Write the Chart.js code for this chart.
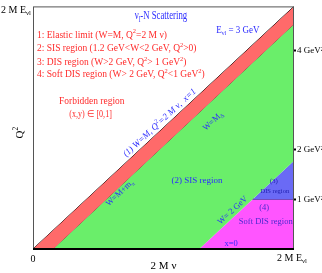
<!DOCTYPE html>
<html>
<head>
<meta charset="utf-8">
<script src="https://cdn.jsdelivr.net/npm/chart.js@4.4.0/dist/chart.umd.min.js"></script>
<style>
  html, body { margin: 0; padding: 0; background: #fff; }
</style>
</head>
<body>
<canvas id="kin" width="322" height="273"></canvas>
<script>
// Kinematic plane, both axes in GeV^2: x = 2 M nu, y = Q^2 (E_nu = 3 GeV)

const fullScale = 4.9; // 2 M E_nu
const q2Ticks = [1, 2, 4];

// regions as polygons [2 M nu, Q^2]
const elasticBand = [[0, 0], [4.9, 4.9], [4.9, 4.54], [0.38, 0]];
const sisRegion = [[0.38, 0], [4.9, 4.54], [4.9, 1.78], [3.12, 0]];
const disRegion = [[4.12, 1], [4.9, 1.78], [4.9, 1]];
const softDisRegion = [[3.12, 0], [4.12, 1], [4.9, 1], [4.9, 0]];

// boundary lines
const elasticLine = [[0, 0], [4.9, 4.9]];
const pionLine = [[0.38, 0], [4.9, 4.54]];
const deltaLine = [[0.66, 0], [4.9, 4.24]];
const q2CutLine = [[4.12, 1], [4.9, 1]];

const blue = "#2b2bff";
const red = "#ff2b2b";

// text notes, placed in data units
const notes = [
  ["ν_{l}-N Scattering", 1.91, 4.70, { size: 11.5, color: blue, hScale: 0.76 }],
  ["E_{νl} = 3 GeV", 3.44, 4.42, { size: 10, color: blue, hScale: 0.9 }],
  ["1: Elastic limit (W=M, Q^{2}=2 M ν)", 0.075, 4.32, { size: 9.5, color: red }],
  ["2: SIS region (1.2 GeV<W<2 GeV, Q^{2}>0)", 0.075, 4.05, { size: 9.5, color: red }],
  ["3: DIS region (W>2 GeV, Q^{2}> 1 GeV^{2})", 0.075, 3.77, { size: 9.5, color: red }],
  ["4: Soft DIS region (W> 2 GeV, Q^{2}<1 GeV^{2})", 0.075, 3.52, { size: 9.5, color: red }],
  ["Forbidden region", 0.49, 2.99, { size: 11, color: red, hScale: 0.86 }],
  ["(x,y) ∈ [0,1]", 0.68, 2.71, { size: 9.5, color: red, hScale: 0.85 }],
  ["(1) W=M, Q^{2}=2 M ν,  x=1", 2.38, 2.55, { size: 9, color: blue, align: "center", diag: true, style: "italic" }],
  ["W=M+m_{π}", 1.63, 1.13, { size: 8.5, color: blue, align: "center", diag: true }],
  ["W=M_{Δ}", 3.38, 2.58, { size: 8.5, color: blue, align: "center", diag: true }],
  ["(2) SIS region", 3.08, 1.39, { size: 9, color: blue, align: "center" }],
  ["W= 2 GeV", 3.75, 0.78, { size: 8.5, color: blue, align: "center", diag: true }],
  ["(3)", 4.52, 1.38, { size: 7, color: "#2020b0", align: "center" }],
  ["DIS region", 4.54, 1.17, { size: 6.5, color: "#2020b0", align: "center" }],
  ["(4)", 4.34, 0.84, { size: 8.5, color: "#4a2ad0", align: "center" }],
  ["Soft DIS region", 4.37, 0.54, { size: 8.5, color: "#4a2ad0", align: "center" }],
  ["x=0", 3.72, 0.10, { size: 8.5, color: blue, align: "center" }],
];

function parse(s) {
  const out = [];
  const re = /([_^])\{([^}]*)\}/g;
  let last = 0, m;
  while ((m = re.exec(s))) {
    if (m.index > last) out.push([s.slice(last, m.index), ""]);
    out.push([m[2], m[1] === "_" ? "sub" : "sup"]);
    last = re.lastIndex;
  }
  if (last < s.length) out.push([s.slice(last), ""]);
  return out;
}

function drawRich(ctx, text, x, y, o) {
  const parts = parse(text);
  const size = o.size;
  const fontFor = m => `${o.style || ""} ${m ? size * 0.68 : size}px "Liberation Serif"`;
  ctx.save();
  ctx.translate(x, y);
  if (o.rot) ctx.rotate(o.rot);
  if (o.hScale) ctx.scale(o.hScale, 1);
  ctx.fillStyle = o.color || "#000";
  ctx.textBaseline = "middle";
  ctx.textAlign = "left";
  let w = 0;
  parts.forEach(p => { ctx.font = fontFor(p[1]); w += ctx.measureText(p[0]).width; });
  let cx = o.align === "center" ? -w / 2 : o.align === "right" ? -w : 0;
  parts.forEach(p => {
    ctx.font = fontFor(p[1]);
    const dy = p[1] === "sub" ? size * 0.3 : p[1] === "sup" ? -size * 0.35 : 0;
    ctx.fillText(p[0], cx, dy);
    cx += ctx.measureText(p[0]).width;
  });
  ctx.restore();
}

const pts = arr => arr.map(([x, y]) => ({ x, y }));

const area = (data, color) => ({
  data: pts(data),
  showLine: true,
  fill: "shape",
  backgroundColor: color,
  borderWidth: 0,
  pointRadius: 0,
});

const line = (data, width, dash) => ({
  data: pts(data),
  showLine: true,
  fill: false,
  borderColor: "#000",
  borderWidth: width,
  borderDash: dash || [],
  pointRadius: 0,
});

const notesPlugin = {
  id: "notes",
  afterDatasetsDraw(chart) {
    const ctx = chart.ctx;
    const { x, y } = chart.scales;
    const a = chart.chartArea;
    const rot = Math.atan2(y.getPixelForValue(1) - y.getPixelForValue(0),
                           x.getPixelForValue(1) - x.getPixelForValue(0));

    // frame
    ctx.save();
    ctx.strokeStyle = "#555";
    ctx.lineWidth = 1;
    ctx.strokeRect(a.left + 0.5, a.top + 0.5, a.right - a.left - 1, a.bottom - a.top);
    ctx.strokeStyle = "#000";
    ctx.lineWidth = 2;
    ctx.beginPath();
    ctx.moveTo(a.left, a.bottom);
    ctx.lineTo(a.right, a.bottom);
    ctx.stroke();
    ctx.restore();

    notes.forEach(([t, nx, ny, o]) => {
      drawRich(ctx, t, x.getPixelForValue(nx), y.getPixelForValue(ny),
               Object.assign({}, o, { rot: o.diag ? rot : 0 }));
    });

    // outer labels
    drawRich(ctx, "2 M E_{νl}", a.left - 2, a.top + 4, { size: 10, color: "#000", align: "right" });
    drawRich(ctx, "2 M E_{νl}", a.right - 17, a.bottom + 9, { size: 10, color: "#000" });
    drawRich(ctx, "0", a.left, a.bottom + 10, { size: 10, color: "#000", align: "center" });
    drawRich(ctx, "Q^{2}", a.left - 13, (a.top + a.bottom) / 2 + 5, { size: 11, color: "#000", align: "center", rot: -Math.PI / 2 });
  },
};

new Chart(document.getElementById("kin"), {
  type: "scatter",
  data: {
    datasets: [
      area(elasticBand, "#ff6a6a"),
      area(sisRegion, "#6aee6a"),
      area(disRegion, "#6a6af5"),
      area(softDisRegion, "#ff55ff"),
      line(elasticLine, 1),
      line(pionLine, 1),
      line(deltaLine, 1, [5, 3]),
      line(q2CutLine, 2),
    ],
  },
  options: {
    responsive: false,
    animation: false,
    devicePixelRatio: 1,
    layout: { padding: { left: 33, top: 3, right: 0, bottom: 0 } },
    plugins: { legend: { display: false }, tooltip: { enabled: false } },
    scales: {
      x: {
        type: "linear",
        min: 0,
        max: fullScale,
        afterFit: s => { s.height = 24; },
        grid: { display: false },
        border: { display: false },
        ticks: { display: false },
        title: {
          display: true,
          text: "2 M ν",
          color: "#000",
          font: { family: "Liberation Serif", size: 11 },
          padding: 0,
        },
      },
      y: {
        type: "linear",
        position: "right",
        min: 0,
        max: fullScale,
        afterBuildTicks: s => { s.ticks = q2Ticks.map(v => ({ value: v })); },
        afterFit: s => { s.width = 28; },
        grid: { drawOnChartArea: false, tickLength: 2, color: "#000", tickWidth: 2 },
        border: { display: false },
        ticks: {
          callback: v => v + " GeV²",
          color: "#000",
          padding: 1,
          font: { family: "Liberation Serif", size: 9 },
        },
      },
    },
  },
  plugins: [notesPlugin],
});
</script>
</body>
</html>
